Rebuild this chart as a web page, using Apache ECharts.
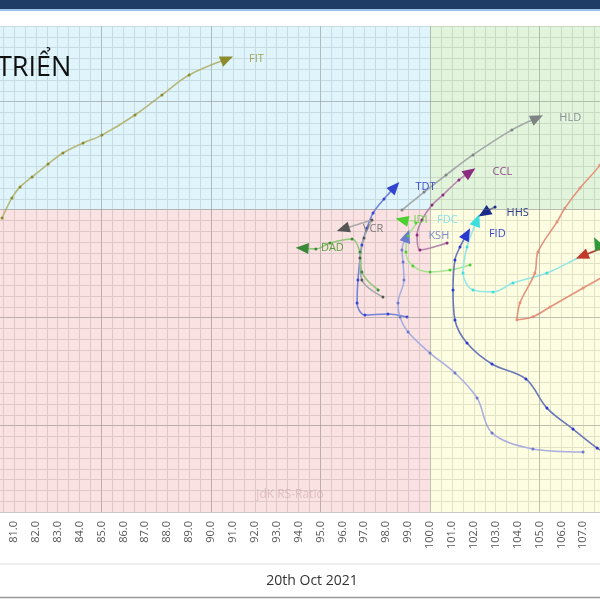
<!DOCTYPE html>
<html><head><meta charset="utf-8">
<script src="https://cdn.jsdelivr.net/npm/echarts@6/dist/echarts.min.js"></script>
<style>html,body{margin:0;padding:0;background:#fff}#c{width:600px;height:600px}</style>
</head><body><div id="c"></div>
<script>
// ---- axis / data values ----
const X_MIN = 80, X_MAX = 108, Y_MIN = 86, Y_MAX = 108.5, CENTER = 100;
const MAJOR_X = [85, 90, 95, 100, 105];
const MAJOR_Y = [90, 95, 100, 105];
const DATE_LABEL = '20th Oct 2021';

const FIT = [[80.46,99.61],[80.91,100.54],[81.28,101.05],[81.83,101.51],[82.56,102.11],[83.24,102.62],[84.16,103.08],[85.02,103.45],[86.53,104.38],[87.76,105.31],[89.0,106.23],[90.73,106.97]];
const HLD = [[98.72,99.98],[99.73,100.81],[100.73,101.60],[101.96,102.53],[103.74,103.69],[104.89,104.24]];
const CCL = [[100.78,98.45],[99.54,98.13],[99.41,98.82],[99.63,99.52],[100.09,100.21],[100.59,100.68],[101.32,101.37],[101.83,101.74]];
const TDT = [[98.95,95.03],[98.08,95.17],[97.03,95.12],[96.67,95.68],[96.71,96.74],[96.89,98.36],[97.12,99.15],[97.40,99.84],[97.90,100.49],[98.40,101.05]];
const KSH = [[106.99,88.78],[104.70,88.92],[102.83,89.66],[102.15,91.28],[101.14,92.44],[100.0,93.36],[99.0,94.33],[98.63,95.03],[98.54,95.68],[98.81,96.74],[98.77,97.57],[98.72,98.13],[98.95,98.78]];
const VCR = [[97.85,95.95],[96.89,96.74],[96.80,97.76],[96.99,98.69],[97.35,99.52],[96.03,99.10]];
const DAD = [[97.63,96.28],[96.89,97.11],[96.80,98.04],[96.44,98.64],[95.43,98.45],[94.79,98.18],[94.16,98.22]];
const IDI = [[101.83,97.44],[100.91,97.20],[100.0,97.11],[99.22,97.39],[98.90,98.04],[99.0,98.78],[99.36,99.38],[98.72,99.52]];
const FDC = [[108.22,98.36],[106.85,97.81],[105.34,97.06],[103.79,96.60],[102.88,96.19],[101.96,96.28],[101.51,97.06],[101.69,98.27],[102.15,99.52]];
const HHS = [[102.97,100.12],[102.69,99.98],[102.47,99.84]];
const FID = [[108.22,88.64],[107.63,88.96],[106.53,89.84],[105.34,90.81],[104.38,92.16],[102.83,92.85],[101.69,93.82],[101.14,94.89],[101.05,96.28],[101.14,97.67],[101.37,98.27],[101.69,98.87]];
const ORANGE = [[108.45,103.22],[107.76,102.06],[106.85,101.0],[106.16,100.07],[105.80,99.43],[104.93,98.04],[104.79,97.07],[104.11,95.69],[103.97,94.90],[104.70,95.04],[105.48,95.49],[106.99,96.37],[108.45,97.20]];
const RED = [[108.45,98.46],[107.76,98.18],[106.94,97.85]];
const GREEN = [[108.22,97.56],[107.85,98.03],[107.63,98.45]];

const TRAILS = [
  {name:'FIT', pts:FIT},{name:'HLD', pts:HLD},{name:'CCL', pts:CCL},{name:'TDT', pts:TDT},
  {name:'KSH', pts:KSH},{name:'VCR', pts:VCR},{name:'DAD', pts:DAD},{name:'IDI', pts:IDI},
  {name:'FDC', pts:FDC},{name:'HHS', pts:HHS},{name:'FID', pts:FID},
  {name:'', pts:ORANGE},{name:'', pts:RED},{name:'', pts:GREEN}
];

// ---- styles ----
const STYLE = {
  FIT:{line:'#b7b77a', head:'#8c8c2e', label:'#a3a35a', pos:'right', dist:14},
  HLD:{line:'#a3a8a8', head:'#7e8484', label:'#8a8f94', pos:'right', dist:14},
  CCL:{line:'#b487ab', head:'#8b2a80', label:'#8e4a88', pos:'right', dist:14},
  TDT:{line:'#7484d8', head:'#3446d0', label:'#3a4fc8', pos:'right', dist:12},
  KSH:{line:'#aaaedf', head:'#6a7acc', label:'#8088cc', pos:'right', dist:14},
  VCR:{line:'#a8a8a8', head:'#555555', label:'#7a7a7a', pos:'right', dist:12},
  DAD:{line:'#93c57a', head:'#3a8a3a', label:'#5aa040', pos:'right', dist:12},
  IDI:{line:'#a9e395', head:'#4cd030', label:'#6ad050', pos:'right', dist:4},
  FDC:{line:'#96e6e6', head:'#3fdede', label:'#86e0e6', pos:'left', dist:12},
  HHS:{line:'#7a7a92', head:'#1a2a8a', label:'#2a3a8a', pos:'right', dist:14},
  FID:{line:'#6a78b8', head:'#2a3ad0', label:'#3a4ad0', pos:'right', dist:14},
  '':null
};
const EXTRA = ['#e3937c', '#c0392b', '#2e9a3a'];

const chart = echarts.init(document.getElementById('c'), null, {renderer:'canvas'});

let extraIdx = 0;
const trailSeries = TRAILS.map(t => {
  let st = STYLE[t.name];
  if (!st) { const c = EXTRA[extraIdx++]; st = {line:c, head:c, label:c, pos:'right', dist:14}; }
  const n = t.pts.length;
  const a = t.pts[n-2], b = t.pts[n-1];
  const ang = Math.atan2((b[1]-a[1])*21.6, (b[0]-a[0])*21.9) * 180 / Math.PI;
  const data = t.pts.map((p, i) => i === n-1 ? {
    value: p, symbol: 'triangle', symbolSize: [11, 13], symbolRotate: ang - 90,
    itemStyle: {color: st.head},
    label: {show: !!t.name, formatter: t.name, position: st.pos, distance: st.dist,
            color: st.label, fontSize: 11, fontFamily: 'Open Sans'}
  } : {value: p});
  return {
    type: 'line', name: t.name, data, smooth: 0.35, showSymbol: true, symbol: 'circle',
    symbolSize: 3, lineStyle: {color: st.line, width: 1.6}, itemStyle: {color: st.head},
    z: 3, clip: true, silent: true, animation: false, emphasis: {disabled: true}
  };
});

const quad = {
  type: 'line', data: [[X_MIN, Y_MIN]], symbol: 'none', lineStyle: {opacity: 0}, silent: true, z: 1,
  markArea: {silent: true, data: [
    [{xAxis: X_MIN, yAxis: CENTER, itemStyle: {color: 'rgba(197,237,247,0.55)'}}, {xAxis: CENTER, yAxis: Y_MAX}],
    [{xAxis: CENTER, yAxis: CENTER, itemStyle: {color: 'rgba(203,236,191,0.55)'}}, {xAxis: X_MAX, yAxis: Y_MAX}],
    [{xAxis: X_MIN, yAxis: Y_MIN, itemStyle: {color: 'rgba(247,198,198,0.5)'}}, {xAxis: CENTER, yAxis: CENTER}],
    [{xAxis: CENTER, yAxis: Y_MIN, itemStyle: {color: 'rgba(251,251,195,0.5)'}}, {xAxis: X_MAX, yAxis: CENTER}]
  ]},
  markLine: {silent: true, symbol: ['none','none'], label: {show: false},
    lineStyle: {color: 'rgba(130,130,130,0.35)', type: 'solid', width: 1},
    data: MAJOR_X.map(v => ({xAxis: v})).concat(MAJOR_Y.map(v => ({yAxis: v})))
  },
  animation: false
};

chart.setOption({
  animation: false,
  backgroundColor: '#fff',
  grid: {left: -8, width: 613.2, top: 26, height: 486, outerBoundsMode: 'none', containLabel: false},
  xAxis: {
    type: 'value', min: X_MIN, max: X_MAX, interval: 1,
    axisLine: {show: false}, axisTick: {show: false},
    axisLabel: {rotate: 90, formatter: v => v.toFixed(1), color: '#555', fontSize: 11,
                margin: 9, fontFamily: 'Open Sans'},
    splitLine: {show: true, lineStyle: {color: '#c8c8c8', width: 1}},
    minorTick: {show: false, splitNumber: 2},
    minorSplitLine: {show: true, lineStyle: {color: '#c8c8c8', width: 1}}
  },
  yAxis: {
    type: 'value', min: Y_MIN, max: Y_MAX, interval: 0.5,
    axisLine: {show: false}, axisTick: {show: false}, axisLabel: {show: false},
    splitLine: {show: true, lineStyle: {color: '#c8c8c8', width: 1}}
  },
  graphic: [
    {type: 'rect', shape: {x: 0, y: 0, width: 600, height: 10}, style: {fill: '#1f3c66'}, z: 10},
    {type: 'line', shape: {x1: 0, y1: 10, x2: 600, y2: 10}, style: {stroke: '#9cc2e6', lineWidth: 2}, z: 10},
    {type: 'text', x: -3, y: 55, style: {text: 'TRIỂN', font: '27px "Open Sans"', fill: '#111'}, z: 10},
    {type: 'text', x: 290, y: 495, style: {text: 'jdK RS-Ratio', font: '12px "Open Sans"', fill: 'rgba(200,160,160,0.55)', align: 'center', verticalAlign: 'middle'}, z: 10},
    {type: 'line', shape: {x1: 0, y1: 564, x2: 600, y2: 564}, style: {stroke: '#dddddd', lineWidth: 1}, z: 10},
    {type: 'text', x: 312, y: 581, style: {text: DATE_LABEL, font: '14px "Open Sans"', fill: '#333', align: 'center', verticalAlign: 'middle'}, z: 10},
    {type: 'line', shape: {x1: 0, y1: 597.5, x2: 600, y2: 597.5}, style: {stroke: '#999', lineWidth: 1.5}, z: 10}
  ],
  series: [quad].concat(trailSeries)
});
</script></body></html>
